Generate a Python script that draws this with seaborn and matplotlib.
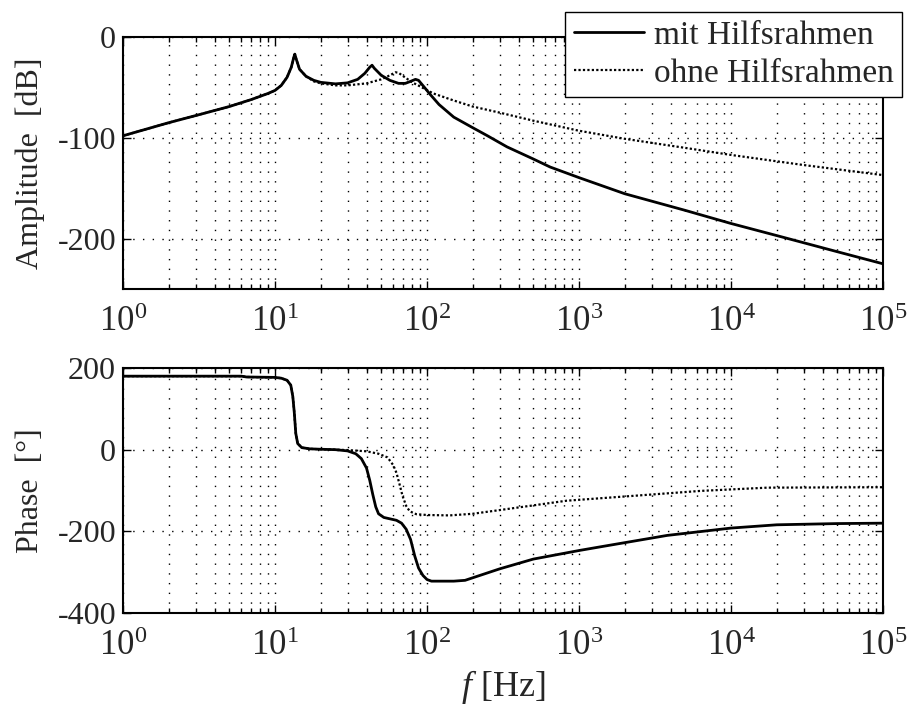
import numpy as np
import pandas as pd
import matplotlib
matplotlib.use("Agg")
import matplotlib.pyplot as plt
import seaborn as sns
from matplotlib.ticker import LogLocator, NullFormatter

# amplitude, mit Hilfsrahmen (Hz, dB)
f_amp_mit = [1, 2, 3, 5, 7, 9, 10, 11, 12, 12.8, 13.3, 13.5, 13.8, 14.5, 16, 18, 20, 25, 30,
             35, 39, 42, 43.5, 45, 50, 57, 65, 72, 78, 84, 88, 95, 105, 120, 150, 200, 250,
             336, 500, 646, 1000, 2000, 5000, 1e4, 2e4, 5e4, 1e5]
amp_mit = [-98, -85, -78, -69, -62, -56, -53, -48, -40, -30, -20, -17, -22, -32, -39, -43, -45,
           -46.5, -45.5, -42, -36, -30, -28, -31, -38, -43, -46, -46, -44, -42, -43, -49, -57,
           -67, -79.5, -90, -98, -109, -121, -129, -139.5, -155.5, -172, -185, -197, -213, -225]

# amplitude, ohne Hilfsrahmen
f_amp_ohne = [1, 2, 3, 5, 7, 9, 10, 11, 12, 12.8, 13.3, 13.5, 13.8, 14.5, 16, 18, 20, 25, 30,
              40, 50, 57, 62, 65, 70, 80, 90, 110, 150, 200, 300, 500, 1000, 2000, 5000, 1e4,
              3e4, 1e5]
amp_ohne = [-98, -85, -78, -69, -62, -56, -53, -48, -40, -30, -20, -17, -22, -32, -39, -44, -46,
            -48, -48, -46, -42, -38, -35, -35.5, -39, -45, -49, -56, -63, -69, -75, -83, -93,
            -101, -110, -117, -127, -137]

# phase, mit Hilfsrahmen (Hz, deg)
f_ph_mit = [1, 5, 6, 6.5, 10, 11, 12, 12.7, 13.1, 13.4, 13.7, 14.1, 15, 17, 20, 25, 30, 34, 37,
            40, 42, 44, 46, 48, 52, 58, 63, 68, 73, 78, 83, 88, 94, 100, 107, 150, 178, 300,
            500, 1000, 1380, 3800, 1e4, 2e4, 5e4, 1e5]
ph_mit = [180, 180, 180, 178, 177, 175, 170, 158, 130, 90, 40, 15, 5, 2, 1, 0, -3, -10, -22,
          -45, -75, -110, -140, -157, -166, -170, -173, -180, -195, -220, -260, -290, -308,
          -318, -322, -322, -320, -292, -268, -247, -238, -210, -192, -184, -181, -180]

# phase, ohne Hilfsrahmen
f_ph_ohne = [1, 5, 6, 6.5, 10, 11, 12, 12.7, 13.1, 13.4, 13.7, 14.1, 15, 17, 20, 25, 30, 40,
             48, 55, 60, 63, 66, 69, 73, 77, 85, 100, 141, 200, 300, 830, 2300, 6300, 17400,
             1e5]
ph_ohne = [180, 180, 180, 178, 177, 175, 170, 158, 130, 90, 40, 15, 5, 2, 1, 0, -1, -4, -10,
           -19, -38, -57, -85, -113, -138, -151, -158, -160, -161, -157, -148, -125, -113,
           -101, -93, -92]

decades = [1, 10, 100, 1000, 1e4, 1e5]
dec_labels = [r'$10^{0}$', r'$10^{1}$', r'$10^{2}$', r'$10^{3}$', r'$10^{4}$', r'$10^{5}$']

sns.set_style("ticks")
plt.rcParams['font.family'] = ['Liberation Serif', 'DejaVu Serif']
plt.rcParams['mathtext.fontset'] = 'custom'
plt.rcParams['mathtext.rm'] = 'Liberation Serif'
plt.rcParams['mathtext.it'] = 'Liberation Serif:italic'
plt.rcParams['axes.unicode_minus'] = False

fig = plt.figure(figsize=(9.07, 7.08), dpi=100)
ax1 = fig.add_axes([123/907, 1-289/708, 760/907, 252/708])
ax2 = fig.add_axes([123/907, 1-613/708, 760/907, 245/708])

sns.lineplot(x=f_amp_mit, y=amp_mit, ax=ax1, color='k', lw=2.0, sort=False,
             estimator=None, label='mit Hilfsrahmen')
sns.lineplot(x=f_amp_ohne, y=amp_ohne, ax=ax1, color='k', lw=1.6, sort=False,
             estimator=None, linestyle=(0, (1, 1)), label='ohne Hilfsrahmen')
sns.lineplot(x=f_ph_mit, y=ph_mit, ax=ax2, color='k', lw=2.0, sort=False,
             estimator=None, legend=False)
sns.lineplot(x=f_ph_ohne, y=ph_ohne, ax=ax2, color='k', lw=1.6, sort=False,
             estimator=None, linestyle=(0, (1, 1)), legend=False)

grid_kw = dict(color='k', lw=1.0, linestyle=(0, (1, 6)))
for ax, ylim, yt in [(ax1, (-250, 0), [-200, -100, 0]), (ax2, (-400, 200), [-400, -200, 0, 200])]:
    ax.set_xscale('log')
    ax.set_xlim(1, 1e5)
    ax.set_ylim(*ylim)
    ax.set_yticks(yt)
    ax.set_xticks(decades, labels=dec_labels)
    ax.xaxis.set_minor_locator(LogLocator(base=10, subs=np.arange(2, 10), numticks=20))
    ax.xaxis.set_minor_formatter(NullFormatter())
    ax.grid(which='major', axis='both', **grid_kw)
    ax.grid(which='minor', axis='x', **grid_kw)
    ax.tick_params(which='both', direction='in', top=True, right=True,
                   color='k', width=1.0)
    ax.tick_params(which='major', length=6)
    ax.tick_params(which='minor', length=3.5)
    ax.tick_params(axis='x', labelsize=25, pad=12)
    ax.tick_params(axis='y', labelsize=23, pad=5)
    for s in ax.spines.values():
        s.set_linewidth(1.5)
        s.set_color('k')
    ax.set_xlabel('')

ax1.set_ylabel('Amplitude  [dB]', fontsize=23)
ax2.set_ylabel('Phase  [°]', fontsize=23)
ax1.yaxis.set_label_coords(-0.103, 0.5)
ax2.yaxis.set_label_coords(-0.103, 0.5)
ax2.set_xlabel(r'$f$ [Hz]', fontsize=26, labelpad=4)

leg = ax1.legend(loc='upper right', bbox_to_anchor=(902/907, 1-12/708),
                 bbox_transform=fig.transFigure, borderaxespad=0, fontsize=24,
                 fancybox=False, framealpha=1, edgecolor='k', handlelength=2.1,
                 handletextpad=0.3, borderpad=0.25, labelspacing=0.22)
leg.get_frame().set_linewidth(1.0)

fig.savefig('out.png', dpi=100)
